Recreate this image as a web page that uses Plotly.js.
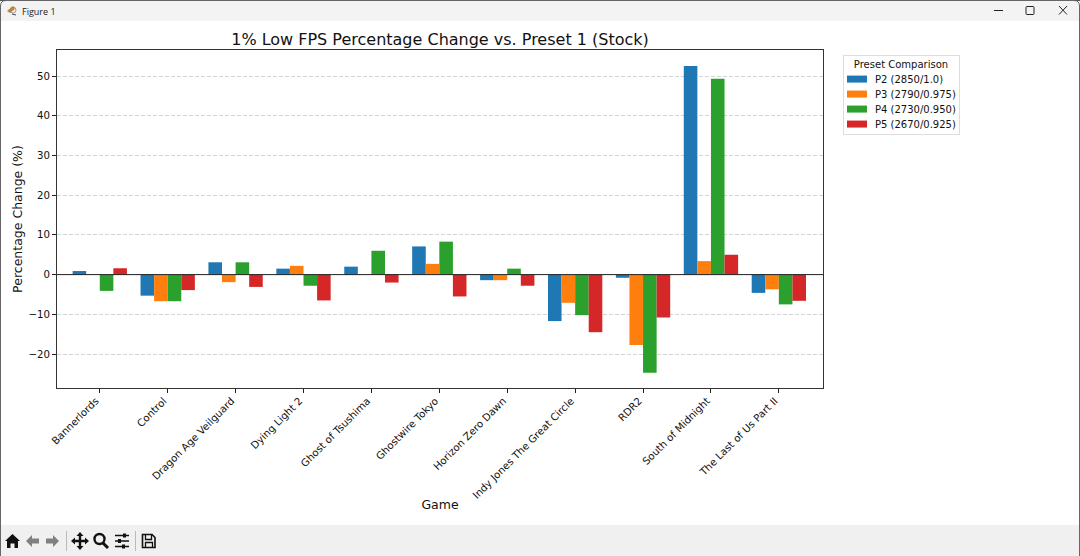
<!DOCTYPE html>
<html>
<head>
<meta charset="utf-8">
<script src="https://cdn.plot.ly/plotly-3.0.1.min.js"></script>
<style>
html, body { margin: 0; padding: 0; background: #fff; overflow: hidden; }
#win { position: relative; width: 1080px; height: 556px; font-family: "DejaVu Sans", sans-serif; }
#myDiv { position: absolute; left: 0; top: 0; width: 1080px; height: 556px; }
#titlebar { position: absolute; left: 0; top: 0; width: 1080px; height: 21px; background: #f3f3f3; border-top: 1px solid #555; box-sizing: border-box; }
#titlebar span { position: absolute; left: 22px; top: 4px; font: 9px "Open Sans", sans-serif; color: #222; }
#toolbar { position: absolute; left: 0; top: 525px; width: 1080px; height: 31px; background: #f0f0f0; }
svg.overlay { position: absolute; left: 0; top: 0; pointer-events: none; }
</style>
</head>
<body>
<div id="win">
  <div id="myDiv"></div>
  <div id="titlebar"><span>Figure 1</span></div>
  <div id="toolbar"></div>
  <svg class="overlay" width="1080" height="556" viewBox="0 0 1080 556">
    <!-- window frame -->
    <path d="M0.5,556V6Q0.5,0.5 6,0.5H1074Q1079.5,0.5 1079.5,6V556" fill="none" stroke="#666" stroke-width="1"/>
    <!-- app icon -->
    <path d="M7,11L13,6L15,9L10,13Z" fill="#c8862a"/>
    <circle cx="13" cy="10" r="3" fill="none" stroke="#888" stroke-width="0.8"/>
    <path d="M12,14L16,15" stroke="#445" stroke-width="1"/>
    <!-- window buttons -->
    <path d="M994,10.5H1003" stroke="#222" stroke-width="1"/>
    <rect x="1026" y="6.5" width="8" height="8" rx="1" fill="none" stroke="#222" stroke-width="1"/>
    <path d="M1059,6L1067,14.5M1067,6L1059,14.5" stroke="#222" stroke-width="1"/>
    <!-- toolbar icons -->
    <path d="M5,541L12.5,534L20,541H18V548H14.5V543.5H10.5V548H7V541Z" fill="#111"/>
    <path d="M26,541L32,535V538.5H39V543.5H32V547Z" fill="#808080"/>
    <path d="M59,541L53,535V538.5H46V543.5H53V547Z" fill="#808080"/>
    <path d="M66.5,531V551" stroke="#bbb" stroke-width="1"/>
    <path d="M80,532L83.5,536H81.2V539.8H85V537.5L89,541L85,544.5V542.2H81.2V546H83.5L80,550L76.5,546H78.8V542.2H75V544.5L71,541L75,537.5V539.8H78.8V536H76.5Z" fill="#111"/>
    <circle cx="99.5" cy="539" r="5" fill="none" stroke="#111" stroke-width="2.4"/>
    <path d="M103,543L108,548" stroke="#111" stroke-width="3"/>
    <path d="M115,535.5H129M115,541H129M115,546.5H129" stroke="#111" stroke-width="1.4"/>
    <rect x="123" y="533.5" width="3" height="4" fill="#111"/>
    <rect x="118" y="539" width="3" height="4" fill="#111"/>
    <rect x="122" y="544.5" width="3" height="4" fill="#111"/>
    <path d="M135.5,531V551" stroke="#bbb" stroke-width="1"/>
    <path d="M142.5,534.5H152L155,537.5V547.5H142.5Z" fill="none" stroke="#111" stroke-width="1.6"/>
    <path d="M145.5,535V539.5H151.5V535M145.5,547V542.5H152.5V547" fill="none" stroke="#111" stroke-width="1.3"/>
  </svg>
</div>
<script>
var games = ['Bannerlords', 'Control', 'Dragon Age Veilguard', 'Dying Light 2', 'Ghost of Tsushima',
    'Ghostwire Tokyo', 'Horizon Zero Dawn', 'Indy Jones The Great Circle', 'RDR2', 'South of Midnight',
    'The Last of Us Part II'];

var p2 = [0.9, -5.3, 3.1, 1.5, 2.0, 7.1, -1.4, -11.7, -0.8, 52.5, -4.6];
var p3 = [0, -6.7, -1.9, 2.2, 0, 2.7, -1.4, -7.1, -17.7, 3.4, -3.7];
var p4 = [-4.1, -6.7, 3.1, -2.8, 6.0, 8.3, 1.5, -10.2, -24.7, 49.3, -7.5];
var p5 = [1.6, -3.9, -3.1, -6.5, -2.0, -5.5, -2.8, -14.5, -10.8, 5.0, -6.6];

var names = ['P2 (2850/1.0)', 'P3 (2790/0.975)', 'P4 (2730/0.950)', 'P5 (2670/0.925)'];
var colors = ['#1f77b4', '#ff7f0e', '#2ca02c', '#d62728'];
var yTicks = [-20, -10, 0, 10, 20, 30, 40, 50];

var positions = games.map(function (g, i) { return i; });
var data = [p2, p3, p4, p5].map(function (vals, i) {
    return { type: 'bar', x: positions, y: vals, name: names[i], marker: { color: colors[i] } };
});

var font = { family: '"DejaVu Sans", sans-serif', color: '#111' };

var layout = {
    width: 1080,
    height: 556,
    margin: { l: 57, r: 257, t: 50, b: 168, pad: 0 },
    paper_bgcolor: '#fff',
    plot_bgcolor: '#fff',
    font: { family: font.family, color: font.color, size: 10.2 },
    barmode: 'group',
    bargap: 0.2,
    bargroupgap: 0,
    title: {
        text: '1% Low FPS Percentage Change vs. Preset 1 (Stock)',
        font: { family: font.family, size: 16, color: '#111' },
        x: 440, xref: 'paper', xanchor: 'center', y: 0.93, yanchor: 'middle'
    },
    xaxis: {
        title: { text: 'Game', font: { family: font.family, size: 12.5 }, standoff: 0 },
        range: [-0.63, 10.65],
        tickmode: 'array',
        tickvals: positions,
        ticktext: games,
        tickangle: -45,
        ticks: 'outside',
        ticklen: 4,
        tickcolor: '#222',
        ticklabelshift: -4,
        ticklabelstandoff: -2,
        showgrid: false,
        zeroline: false,
        showline: true,
        mirror: true,
        linecolor: '#333',
        linewidth: 1,
        automargin: false
    },
    yaxis: {
        title: { text: 'Percentage Change (%)', font: { family: font.family, size: 12.5 }, standoff: 3 },
        range: [-28.55, 56.55],
        tickmode: 'array',
        tickvals: yTicks,
        ticks: 'outside',
        ticklen: 4,
        tickcolor: '#222',
        showgrid: true,
        gridcolor: '#c8c8c8',
        griddash: '4px,2px',
        gridwidth: 0.8,
        zeroline: false,
        showline: true,
        mirror: true,
        linecolor: '#333',
        linewidth: 1,
        automargin: false
    },
    shapes: [{ type: 'line', xref: 'paper', x0: 0, x1: 1, yref: 'y', y0: 0, y1: 0, layer: 'above',
        line: { color: '#222', width: 1 } }],
    legend: {
        x: 1.0261,
        xanchor: 'left',
        y: 0.985,
        yanchor: 'top',
        bgcolor: '#fff',
        bordercolor: '#ddd',
        borderwidth: 1,
        traceorder: 'normal',
        itemclick: false,
        font: { family: font.family, size: 10, color: '#111' },
        title: { text: 'Preset Comparison', side: 'top', font: { family: font.family, size: 10, color: '#111' } },
        itemwidth: 30,
        tracegroupgap: 0
    }
};

function fixLegend() {
    // plotly has no setting for row height or swatch shape, so squeeze the legend to the matplotlib look
    var legend = document.querySelector('#myDiv .legend');
    var w = 116, h = 79;
    legend.querySelectorAll('rect.bg').forEach(function (r) {
        r.setAttribute('width', w);
        r.setAttribute('height', h);
    });
    legend.querySelectorAll('clipPath rect').forEach(function (r) {
        r.setAttribute('width', w + 2);
        r.setAttribute('height', h + 2);
    });
    var title = legend.querySelector('.legendtitletext');
    title.setAttribute('text-anchor', 'middle');
    title.setAttribute('x', w / 2);
    title.setAttribute('y', 13);
    legend.querySelectorAll('.traces').forEach(function (t, i) {
        t.setAttribute('transform', 'translate(0,' + (24 + i * 15) + ')');
        t.querySelectorAll('.legendpoints path').forEach(function (p) {
            p.removeAttribute('transform');
            p.setAttribute('d', 'M24,3.5H4V-3.5H24Z');
        });
        t.querySelector('.legendtext').setAttribute('x', 32);
    });
}

Plotly.newPlot('myDiv', data, layout, { displayModeBar: false, staticPlot: true }).then(fixLegend);
</script>
</body>
</html>
